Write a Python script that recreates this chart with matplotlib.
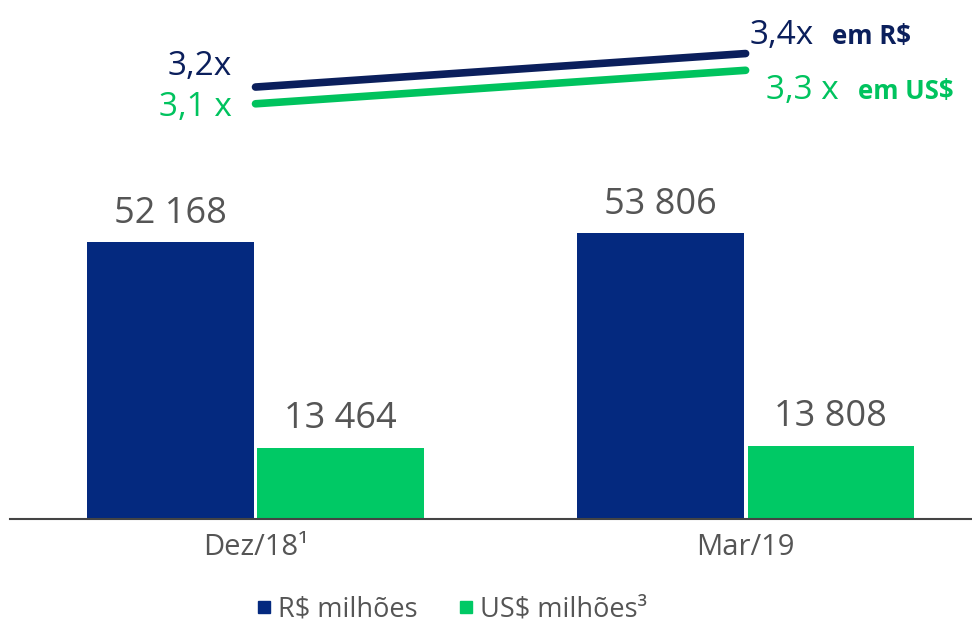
import numpy as np
import matplotlib.pyplot as plt
from matplotlib.lines import Line2D

plt.rcParams['font.family'] = ['Open Sans', 'DejaVu Sans']

# data
periods = ["Dez/18¹", "Mar/19"]
brl_values = [52168, 53806]
usd_values = [13464, 13808]
brl_labels = ["52 168", "53 806"]
usd_labels = ["13 464", "13 808"]
lev_brl = [3.2, 3.4]
lev_usd = [3.1, 3.3]
lev_brl_labels = ["3,2x", "3,4x"]
lev_usd_labels = ["3,1 x", "3,3 x"]

blue = "#04297f"
green = "#00c965"
navy = "#0b1f5c"
lgreen = "#00c35e"
gray = "#555555"

fig = plt.figure(figsize=(9.72, 6.24), dpi=100)
ax = fig.add_axes([10/972, 1 - 519/624, 962/972, 509/624])

x = np.arange(len(periods))
w = 0.339
b1 = ax.bar(x - w/2 - 0.004, brl_values, w, color=blue)
b2 = ax.bar(x + w/2 + 0.004, usd_values, w, color=green)
ax.set_xlim(-0.501, 1.462)
ax.set_ylim(0, 95850)

for bars, labs in [(b1, brl_labels), (b2, usd_labels)]:
    for r, t in zip(bars, labs):
        ax.annotate(t, (r.get_x() + r.get_width()/2, r.get_height()),
                    xytext=(0, 14), textcoords="offset points",
                    ha="center", va="baseline", fontsize=26, color=gray)

for s in ["top", "right", "left"]:
    ax.spines[s].set_visible(False)
ax.spines["bottom"].set_color("#444444")
ax.spines["bottom"].set_linewidth(1.5)
ax.set_yticks([])
ax.set_xticks(x)
ax.set_xticklabels(periods, fontsize=21, color=gray)
ax.tick_params(axis="x", length=0, pad=10)

# leverage lines
ax2 = ax.twinx()
ax2.set_ylim(0.621, 3.66)
ax2.axis("off")
ax2.plot(x, lev_brl, color=navy, lw=5.5, solid_capstyle="round")
ax2.plot(x, lev_usd, color=lgreen, lw=5.5, solid_capstyle="round")

ax2.annotate(lev_brl_labels[0], (x[0], lev_brl[0]), xytext=(-17, 9),
             textcoords="offset points", ha="right", va="baseline",
             fontsize=24, color=navy)
ax2.annotate(lev_usd_labels[0], (x[0], lev_usd[0]), xytext=(-17, -9),
             textcoords="offset points", ha="right", va="baseline",
             fontsize=24, color=lgreen)
ax2.annotate(lev_brl_labels[1], (x[1], lev_brl[1]), xytext=(3, 7),
             textcoords="offset points", ha="left", va="baseline",
             fontsize=24, color=navy)
ax2.annotate("em R$", (x[1], lev_brl[1]), xytext=(62, 7),
             textcoords="offset points", ha="left", va="baseline",
             fontsize=18.5, color=navy, fontweight="bold")
ax2.annotate(lev_usd_labels[1], (x[1], lev_usd[1]), xytext=(15, -21),
             textcoords="offset points", ha="left", va="baseline",
             fontsize=24, color=lgreen)
ax2.annotate("em US$", (x[1], lev_usd[1]), xytext=(81, -21),
             textcoords="offset points", ha="left", va="baseline",
             fontsize=18.5, color=lgreen, fontweight="bold")

handles = [Line2D([], [], marker="s", ls="", color=blue, markersize=8),
           Line2D([], [], marker="s", ls="", color=green, markersize=8)]
fig.legend(handles, ["R$ milhões", "US$ milhões³"], loc="center",
           bbox_to_anchor=(450/972, 1 - 609/624), ncol=2, frameon=False,
           fontsize=19.5, labelcolor=gray, handletextpad=0.1, columnspacing=1.4,
           handlelength=0.8)

fig.savefig("out.png", dpi=100)
